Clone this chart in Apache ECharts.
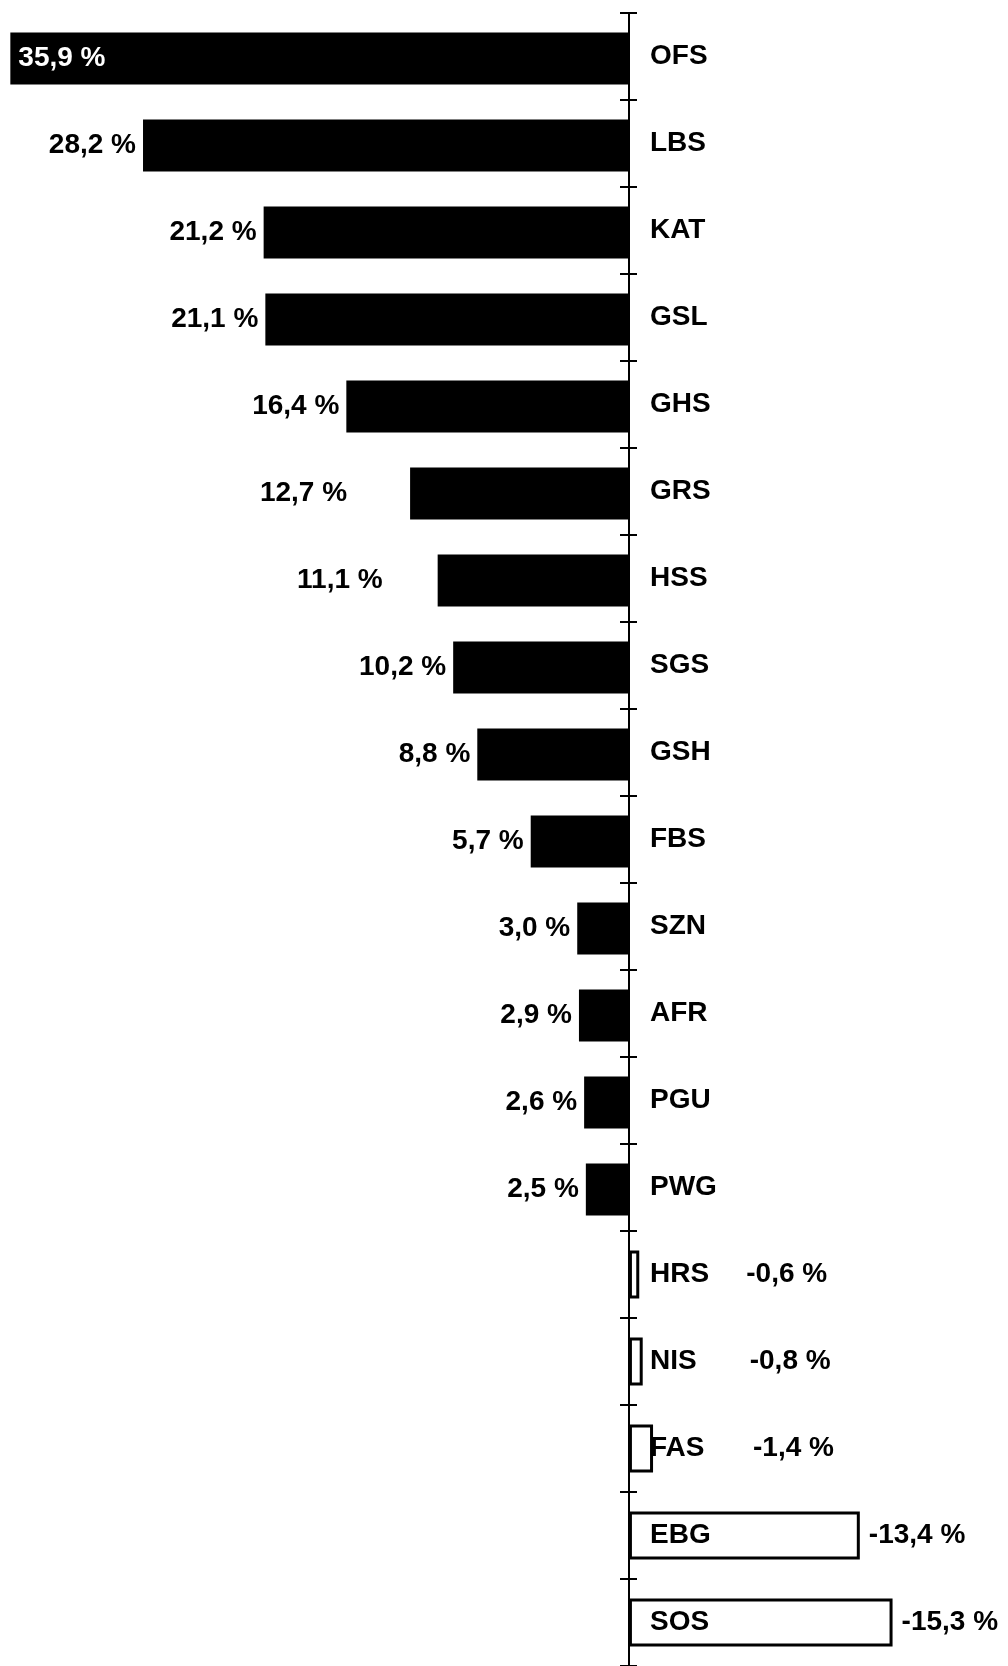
<!DOCTYPE html>
<html>
<head>
    <meta charset="utf-8">
    <title>Veränderung in %</title>
    <script src="https://cdn.jsdelivr.net/npm/echarts@6/dist/echarts.min.js"></script>
    <style>
        html, body { margin: 0; padding: 0; background: #fff; }
    </style>
</head>
<body>
<div id="main" style="width: 1008px;height:1666px"></div>
<script type="text/javascript">

    // Kategorien (von oben nach unten) und Werte in %
    var categories = ['OFS', 'LBS', 'KAT', 'GSL', 'GHS', 'GRS', 'HSS', 'SGS', 'GSH', 'FBS',
        'SZN', 'AFR', 'PGU', 'PWG', 'HRS', 'NIS', 'FAS', 'EBG', 'SOS'];
    var values = [35.9, 28.2, 21.2, 21.1, 16.4, 12.7, 11.1, 10.2, 8.8, 5.7,
        3.0, 2.9, 2.6, 2.5, -0.6, -0.8, -1.4, -13.4, -15.3];

    // Abstand der Wertbeschriftung zum Balken (wie im Original etwas ungleichmäßig)
    var labelGap = { GRS: 63, HSS: 55, HRS: 105, NIS: 105, FAS: 98 };

    var font = 'Liberation Sans, Arial, sans-serif';
    var chartWidth = 1008;
    var xMin = -22, xMax = 36.5;
    // x-Position der Null (Achse ist invertiert: xMax liegt links)
    var zeroX = Math.round((xMax - 0) / (xMax - xMin) * chartWidth);

    function fmt(v) {
        return v.toFixed(1).replace('.', ',') + ' %';
    }

    var posData = [], negData = [];
    values.forEach(function (v, i) {
        var name = categories[i];
        var gap = labelGap[name] != null ? labelGap[name] : 7;
        if (v >= 0) {
            var item = { value: v, label: { position: 'left', distance: gap } };
            if (i === 0) {
                // der längste Balken trägt seine Beschriftung innen, weiß
                item.label = { position: 'insideLeft', distance: 8, color: '#fff' };
            }
            posData.push(item);
            negData.push(null);
        } else {
            posData.push(null);
            negData.push({ value: v, label: { position: 'right', distance: gap + 2 } });
        }
    });

    var myChart = echarts.init(document.getElementById('main'));

    var labelStyle = {
        show: true,
        fontFamily: font,
        fontWeight: 'bold',
        fontSize: 28,
        color: '#000',
        formatter: function (p) { return fmt(p.value); }
    };

    myChart.setOption({
        animation: false,
        backgroundColor: '#fff',
        grid: { left: 0, right: 0, top: 13, bottom: 0, outerBoundsMode: 'none', containLabel: false },
        xAxis: {
            type: 'value',
            inverse: true,    // positive Werte nach links
            min: xMin,
            max: xMax,
            show: false
        },
        yAxis: [
            {
                type: 'category',
                data: categories,
                inverse: true,
                position: 'right',
                offset: -(chartWidth - zeroX),
                z: 5,
                axisLine: { onZero: false, lineStyle: { color: '#000', width: 2 } },
                axisTick: { show: true, length: 8, lineStyle: { color: '#000', width: 2 } },
                axisLabel: {
                    margin: 21,
                    fontFamily: font,
                    fontWeight: 'bold',
                    fontSize: 28,
                    color: '#000',
                    align: 'left'
                },
                splitLine: { show: false }
            },
            {
                // nur für die Gegenseite der Teilstriche
                type: 'category',
                data: categories,
                inverse: true,
                position: 'left',
                offset: -zeroX,
                z: 5,
                axisLine: { show: false, onZero: false },
                axisTick: { show: true, length: 9, lineStyle: { color: '#000', width: 2 } },
                axisLabel: { show: false },
                splitLine: { show: false }
            }
        ],
        series: [
            {
                type: 'bar',
                data: posData,
                barWidth: 52,
                barGap: '-100%',
                itemStyle: { color: '#000' },
                label: labelStyle
            },
            {
                type: 'bar',
                data: negData,
                barWidth: 48,
                itemStyle: { color: '#fff', borderColor: '#000', borderWidth: 3 },
                label: labelStyle
            }
        ]
    });
</script>
</body>
</html>
